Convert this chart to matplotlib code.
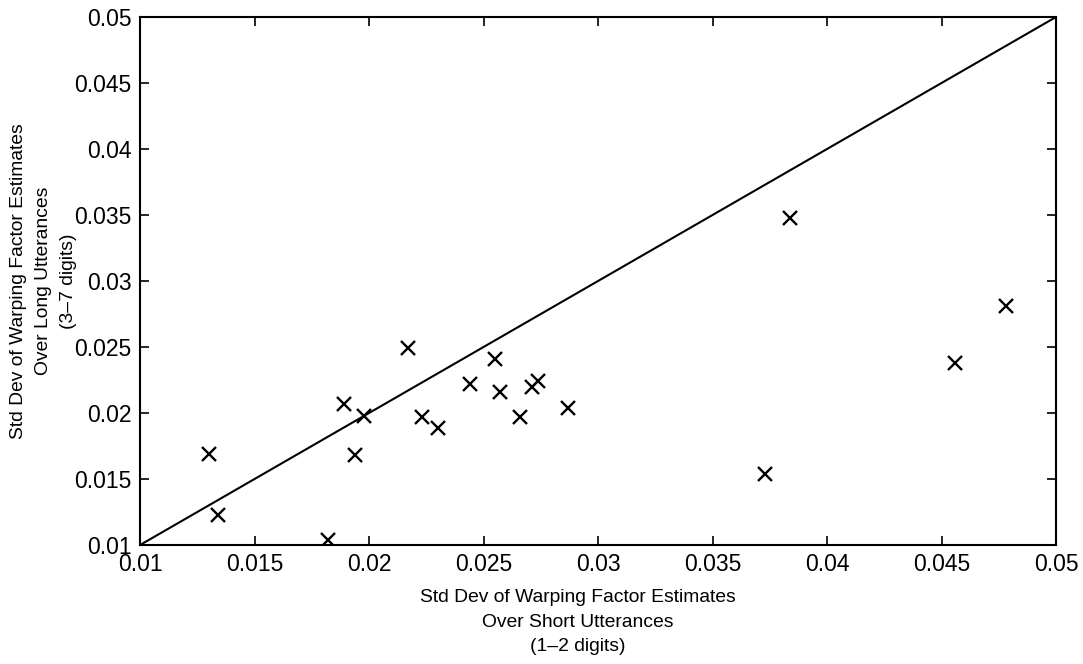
import numpy as np
import matplotlib
matplotlib.use("Agg")
import matplotlib.pyplot as plt

plt.rcParams["font.family"] = ["Liberation Sans", "DejaVu Sans"]

# std dev over short utterances (x) vs long utterances (y)
shortStd = [0.0130, 0.0134, 0.0182, 0.0189, 0.0194, 0.0198, 0.0217, 0.0223,
            0.0230, 0.0244, 0.0255, 0.0257, 0.0266, 0.0271, 0.0274, 0.0287,
            0.0373, 0.0384, 0.0456, 0.0478]
longStd = [0.0169, 0.0123, 0.0104, 0.0207, 0.0168, 0.0198, 0.0249, 0.0197,
           0.0189, 0.0222, 0.0241, 0.0216, 0.0197, 0.0220, 0.0224, 0.0204,
           0.0154, 0.0348, 0.0238, 0.0281]
axisRange = [0.01, 0.05]
tickValues = [0.01, 0.015, 0.02, 0.025, 0.03, 0.035, 0.04, 0.045, 0.05]
tickLabels = ["0.01", "0.015", "0.02", "0.025", "0.03", "0.035", "0.04", "0.045", "0.05"]

fig = plt.figure(figsize=(10.83, 6.64), dpi=100)
ax = fig.add_axes([0.1293, 0.1792, 0.8458, 0.7952])

ax.plot(axisRange, axisRange, color="black", linewidth=1.5)
ax.plot(shortStd, longStd, linestyle="none", marker="x", color="black",
        markersize=10, markeredgewidth=1.7)

ax.set_xlim(axisRange)
ax.set_ylim(axisRange)
ax.set_xticks(tickValues)
ax.set_xticklabels(tickLabels)
ax.set_yticks(tickValues)
ax.set_yticklabels(tickLabels)
ax.tick_params(direction="in", length=6.5, width=1.2, top=True, right=True,
               labelsize=16.5, colors="black")
ax.tick_params(axis="x", pad=6)
ax.tick_params(axis="y", pad=6)
for spine in ax.spines.values():
    spine.set_linewidth(1.5)

ax.set_xlabel("Std Dev of Warping Factor Estimates\nOver Short Utterances\n(1\u20132 digits)",
              fontsize=13.9, linespacing=1.6)
ax.xaxis.set_label_coords(0.478, -0.083)
ax.set_ylabel("Std Dev of Warping Factor Estimates\nOver Long Utterances\n(3\u20137 digits)",
              fontsize=13.9, linespacing=1.6)
ax.yaxis.set_label_coords(-0.069, 0.5)

fig.savefig("out.png", dpi=100)
